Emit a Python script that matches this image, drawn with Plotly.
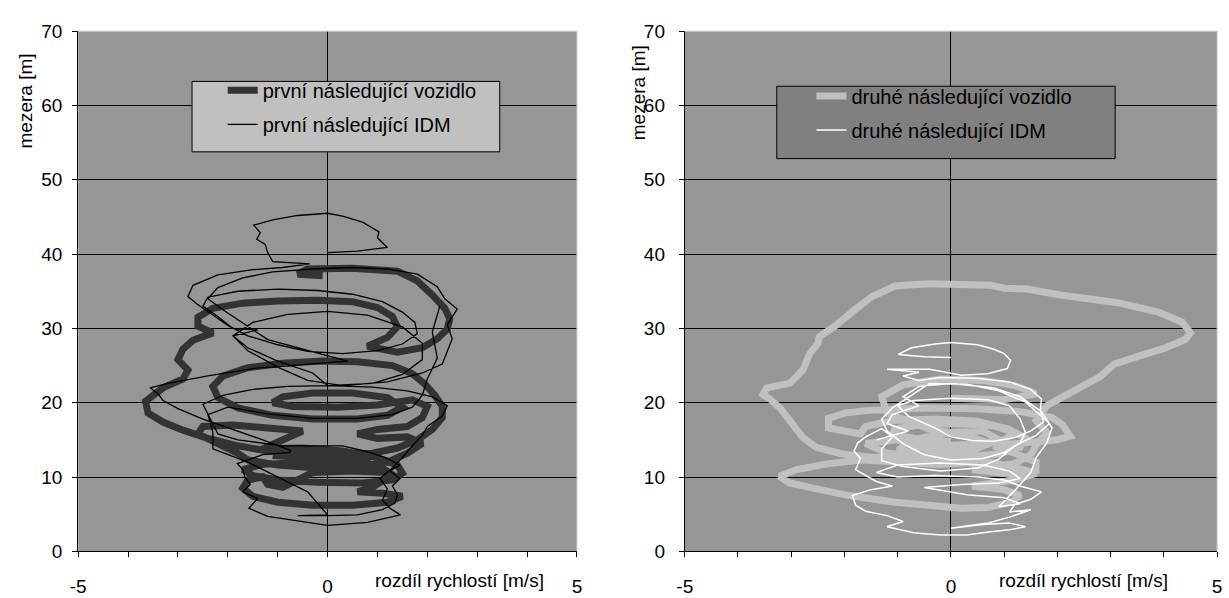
import plotly.graph_objects as go

# ---------------- data ----------------
# left panel: first following vehicle (measured) -- (speed difference [m/s], gap [m])
prvni_vozidlo = [
    (-0.1, 37.1), (-0.6, 37.3), (-0.4, 38.0), (0.5, 38.1), (1.4, 37.7), (1.8, 36.4), (2.1, 34.5),
    (2.35, 32.7), (2.45, 31.3), (2.4, 29.9), (2.2, 28.6), (1.9, 27.4), (1.4, 26.8), (0.8, 27.6),
    (1.2, 28.8), (1.4, 30.2), (1.3, 31.6), (1.0, 32.8), (0.5, 33.6), (-0.2, 33.8), (-1.0, 33.7),
    (-1.7, 33.4), (-2.3, 32.7), (-2.6, 31.5), (-2.6, 30.3), (-2.3, 29.4), (-2.7, 28.4), (-2.9, 27.2),
    (-3.0, 25.8), (-2.8, 24.4), (-2.9, 23.2), (-3.3, 22.0), (-3.65, 20.2), (-3.6, 18.6), (-3.3, 17.4),
    (-2.9, 16.3), (-2.4, 15.2), (-1.8, 14.2), (-1.2, 13.5), (-0.5, 13.1), (0.2, 12.9), (0.9, 13.2),
    (1.4, 13.9), (1.8, 15.0), (2.1, 16.4), (2.3, 18.0), (2.3, 19.5), (2.15, 21.0), (1.95, 22.5),
    (1.7, 23.9), (1.3, 25.0), (0.6, 25.5), (-0.1, 25.6), (-0.9, 25.3), (-1.6, 24.7), (-2.1, 23.6),
    (-2.3, 22.2), (-2.2, 20.7), (-1.8, 19.3), (-1.1, 18.3), (-0.3, 17.8), (0.6, 17.8), (1.2, 18.3),
    (1.5, 19.4), (1.2, 20.7), (0.5, 21.3), (-0.3, 21.3), (-0.9, 20.8), (-1.1, 20.0), (-0.7, 19.5),
    (0.2, 19.4), (1.0, 19.7), (1.7, 20.4), (2.0, 19.5), (1.9, 18.0), (1.6, 16.8), (1.0, 16.4),
    (0.6, 15.8), (1.0, 15.2), (1.6, 15.4), (1.9, 14.5), (1.6, 13.2), (1.2, 12.0), (0.6, 11.4),
    (-0.2, 11.2), (-1.0, 11.6), (-1.6, 12.3), (-1.8, 13.2), (-2.2, 14.6), (-2.6, 15.8), (-2.5, 16.8),
    (-1.9, 17.0), (-1.2, 16.6), (-0.5, 16.2), (-1.3, 13.8), (-0.5, 13.9), (0.3, 13.5), (1.0, 12.6),
    (1.4, 11.6), (1.5, 10.5), (1.3, 9.6), (0.7, 9.2), (-0.2, 9.3), (-1.0, 9.6), (-1.5, 10.2),
    (-1.7, 11.0), (-1.3, 11.7), (-0.4, 12.0), (0.5, 11.8), (1.1, 11.2), (1.3, 10.3), (0.9, 8.6),
    (0.6, 8.0), (1.1, 7.8), (1.5, 7.4), (1.2, 6.6), (0.5, 6.2), (-0.3, 6.2), (-1.0, 6.6), (-1.5, 7.4),
    (-1.7, 8.5), (-1.6, 9.6), (-1.3, 10.0), (-1.2, 9.0), (-0.9, 8.6), (-0.3, 10.6), (0.5, 10.8),
    (1.2, 10.6), (0.6, 12.6), (-0.4, 12.6), (-1.1, 12.9),
]

# left panel: first following vehicle, IDM model
prvni_idm = [
    (0.0, 40.2), (0.6, 40.4), (1.2, 40.9), (1.0, 42.2), (1.03, 43.0), (0.7, 44.3), (0.3, 45.1),
    (0.0, 45.5), (-0.6, 45.2), (-1.1, 44.6), (-1.48, 43.9), (-1.35, 42.9), (-1.42, 42.0), (-1.25, 41.3),
    (-1.2, 40.2), (-1.1, 39.0), (-0.6, 38.8), (-0.36, 38.7), (-0.9, 38.2), (-1.5, 37.9), (-2.2, 37.2),
    (-2.7, 35.8), (-2.8, 34.3), (-2.6, 33.2), (-2.3, 31.8), (-2.0, 30.4), (-1.6, 29.0), (-1.0, 27.8),
    (-0.4, 26.9), (0.3, 26.6), (1.0, 27.0), (1.5, 27.9), (1.8, 29.3), (1.75, 30.8), (1.5, 32.2),
    (1.1, 33.6), (0.5, 34.6), (-0.2, 35.1), (-1.0, 35.3), (-1.8, 35.0), (-2.4, 34.2), (-2.5, 33.0),
    (-2.2, 31.6), (-1.9, 30.0), (-1.4, 29.8), (-1.9, 29.0), (-1.6, 27.4), (-1.0, 25.6),
    (-0.3, 24.0), (0.0, 22.3), (0.9, 22.6), (1.5, 23.8), (1.9, 25.8), (1.9, 28.0), (1.5, 30.2),
    (0.8, 31.8), (0.0, 32.3), (-0.8, 31.9), (-1.5, 30.8), (-1.9, 29.0), (-1.6, 27.0), (-1.0, 24.8),
    (-0.4, 23.0), (0.3, 22.3), (1.2, 22.8), (1.9, 24.0), (2.3, 25.2), (2.4, 26.8), (2.5, 28.6),
    (2.4, 30.5), (2.6, 32.6), (2.35, 34.0), (2.2, 35.6), (1.8, 37.3), (1.2, 38.0), (0.5, 38.2),
    (-0.3, 38.0), (-1.1, 37.6), (-1.7, 36.8), (-2.2, 35.5), (-2.4, 34.0), (-2.1, 32.5),
    (-1.2, 28.5), (0.4, 25.6), (-0.8, 25.0),
    (-1.5, 24.6), (-2.4, 23.6), (-3.2, 22.6), (-3.56, 22.0), (-3.4, 21.2), (-3.3, 20.3), (-3.0, 19.2),
    (-2.5, 17.8), (-1.9, 16.4), (-1.3, 15.0), (-0.75, 13.6), (-0.75, 13.3), (-1.3, 13.0), (-1.81, 11.8),
    (-1.7, 11.0), (-1.66, 10.0), (-1.55, 9.0), (-1.7, 8.0), (-1.4, 7.1), (-1.58, 5.8), (-1.2, 4.7),
    (-0.5, 4.0), (0.0, 3.5), (0.8, 3.9), (1.46, 4.9), (1.25, 5.8), (1.1, 6.9), (1.2, 8.4), (1.05, 9.8),
    (1.3, 11.2), (1.5, 12.6), (1.7, 14.2), (1.9, 15.6), (2.0, 16.8), (2.3, 18.2), (2.4, 19.6),
    (2.1, 20.8), (1.6, 21.6), (0.9, 22.1), (0.0, 22.3), (-0.8, 22.2), (-1.5, 21.8), (-2.1, 21.0),
    (-2.5, 19.8), (-2.4, 18.5), (-2.3, 17.0), (-2.2, 15.8), (-1.8, 15.0), (-0.9, 14.2), (-0.2, 14.2),
    (0.3, 14.2), (0.8, 13.4), (1.2, 12.5), (1.45, 11.6), (1.25, 10.8), (1.45, 9.8), (1.3, 8.8),
    (1.4, 7.6), (1.35, 6.5), (1.1, 5.6), (0.6, 4.9), (0.0, 4.8), (-0.6, 4.8), (0.0, 4.9),
    (-0.4, 8.0), (-1.0, 10.0), (-1.6, 12.0), (-2.3, 13.8), (-2.3, 16.0), (-2.4, 18.4), (-2.0, 19.4),
    (-1.2, 18.5), (-0.3, 17.9), (0.6, 17.9), (1.3, 18.4), (1.7, 19.4), (1.9, 21.0), (2.0, 23.2),
    (2.2, 26.0), (2.1, 29.5), (2.25, 33.0),
]

# right panel: second following vehicle (measured)
druhe_vozidlo = [
    (0.0, 14.8), (-0.5, 15.0), (-1.0, 15.6), (-1.1, 16.4), (-0.6, 17.0), (0.1, 17.2), (0.8, 16.9),
    (1.2, 16.0), (1.0, 15.0), (0.5, 14.4), (-0.2, 14.2), (-0.8, 14.4), (-1.0, 13.6), (-0.6, 12.9),
    (0.2, 12.7), (0.9, 13.1), (1.3, 14.0), (1.4, 15.2), (1.1, 16.4), (0.5, 17.5), (-0.3, 17.8),
    (-1.1, 17.6), (-1.6, 16.8), (-1.7, 15.8), (-2.3, 16.6), (-2.3, 17.9), (-2.0, 18.6), (-1.5, 19.0),
    (-0.5, 19.3), (0.5, 19.2), (1.3, 18.8), (1.9, 18.0), (2.1, 17.0), (2.2, 16.0), (2.24, 15.5),
    (2.0, 15.0), (1.5, 14.6), (0.8, 14.2), (1.2, 13.2), (1.6, 12.0), (1.6, 10.8), (1.1, 10.4),
    (0.4, 11.0), (1.2, 11.8), (1.5, 13.0), (1.6, 14.2), (1.8, 16.0), (1.6, 17.6), (1.8, 19.6),
    (2.05, 20.5), (2.36, 21.8), (2.8, 23.5), (3.07, 25.2), (3.5, 26.2), (4.0, 27.3), (4.4, 28.5),
    (4.5, 29.4), (4.35, 30.8), (3.9, 32.2), (3.1, 33.5), (2.67, 33.9), (2.05, 34.5), (1.43, 35.3),
    (1.0, 35.4), (0.75, 35.8), (0.0, 36.0), (-0.43, 36.0), (-1.05, 35.7), (-1.48, 34.3), (-1.79, 32.6),
    (-2.16, 30.4), (-2.47, 28.9), (-2.5, 28.0), (-2.66, 26.5), (-2.78, 24.4), (-3.03, 22.6),
    (-3.46, 22.0), (-3.53, 21.1), (-3.4, 20.5), (-3.2, 19.2), (-2.97, 17.0), (-2.78, 15.3),
    (-2.53, 14.0), (-2.04, 13.1), (-1.54, 12.7), (-0.8, 12.5), (0.0, 12.3), (0.5, 12.0), (-0.2, 11.7),
    (-1.0, 12.0), (-1.67, 12.3), (-2.3, 11.8), (-2.9, 11.0), (-3.22, 10.1), (-3.03, 9.2), (-2.53, 8.4),
    (-1.91, 7.5), (-1.05, 6.6), (-0.3, 6.0), (0.19, 5.8), (0.7, 5.9), (1.12, 6.6), (1.3, 7.5),
    (1.0, 8.3), (0.4, 8.8), (1.2, 9.6), (1.6, 10.5), (1.2, 11.3), (0.4, 12.5), (-0.5, 13.8),
    (-1.0, 15.0), (-1.6, 14.5), (-1.2, 13.2), (-0.4, 12.8), (0.4, 13.6), (0.9, 15.0), (0.6, 16.2),
    (0.0, 16.0), (-0.6, 15.2), (-0.7, 14.0), (0.2, 13.6), (0.7, 14.6), (0.3, 15.6), (-0.4, 16.4),
    (-1.2, 18.6), (-1.3, 20.8), (-0.9, 22.4), (-0.2, 23.2), (0.6, 23.0),
    (1.2, 22.3), (1.6, 21.2), (1.0, 20.4), (0.0, 20.6),
]

# right panel: second following vehicle, IDM model
druhe_idm = [
    (0.0, 26.1), (-0.5, 26.2), (-0.99, 26.5), (-0.74, 27.4), (-0.3, 27.9), (0.0, 28.1), (0.5, 27.8),
    (0.81, 27.2), (1.0, 26.6), (1.12, 25.7), (1.06, 24.6), (0.69, 23.9), (0.2, 23.7), (-0.4, 24.5),
    (-1.2, 24.5), (-0.6, 24.1), (-0.9, 23.6), (-0.6, 23.0), (-0.2, 23.4), (0.5, 23.3), (1.1, 22.8),
    (1.5, 21.8), (1.7, 20.5), (1.68, 19.0), (1.74, 17.4), (1.5, 16.2), (1.2, 15.3), (0.8, 14.8),
    (0.4, 14.9), (0.0, 15.4), (-0.3, 16.6), (-0.8, 18.2), (-1.0, 19.6), (-0.7, 20.3), (0.0, 20.6),
    (0.7, 20.4), (1.1, 19.6), (1.3, 17.8), (1.4, 16.0), (1.3, 14.6), (1.0, 13.3), (0.6, 12.5),
    (0.0, 12.3), (-0.5, 13.0), (-0.9, 14.5), (-1.2, 16.2), (-1.3, 17.8), (-1.1, 19.3), (-0.7, 21.2),
    (-0.4, 22.6), (0.3, 22.5), (0.9, 21.6), (1.4, 20.1), (1.85, 17.2), (1.6, 15.6), (1.2, 14.2),
    (0.9, 12.4), (0.5, 11.2), (-0.2, 10.8), (-0.9, 11.4), (-1.3, 12.2), (-1.3, 13.8), (-1.1, 15.4),
    (-1.3, 16.5), (-1.6, 15.4), (-1.75, 14.6), (-1.82, 13.5), (-1.7, 12.5), (-1.79, 11.0),
    (-1.6, 10.2), (-1.4, 9.4), (-1.1, 8.8), (-1.5, 8.3), (-1.85, 7.5), (-1.79, 6.2), (-1.6, 5.4),
    (-1.2, 4.8), (-0.9, 4.0), (-1.2, 3.3), (-0.7, 2.5), (-0.2, 2.2), (0.3, 2.2), (0.7, 2.6),
    (1.1, 2.9), (1.4, 3.3), (1.1, 3.8), (0.6, 3.6), (0.0, 3.1), (0.7, 3.8), (1.1, 4.6), (1.5, 5.6),
    (1.1, 5.3), (1.2, 6.3), (1.5, 7.0), (1.7, 8.0), (1.3, 8.8), (1.0, 9.6), (0.5, 10.0),
    (-0.3, 10.2), (-1.0, 10.0), (-1.4, 10.6), (-1.0, 11.6), (-0.2, 11.9), (0.6, 11.6), (1.1, 10.8),
    (1.3, 9.8), (0.9, 9.2), (0.2, 9.0), (-0.5, 8.6), (0.3, 7.6), (1.0, 7.2), (1.3, 6.4), (0.9, 6.0),
    (1.2, 8.2), (1.5, 10.6), (1.6, 12.6), (1.8, 14.6), (1.9, 16.6), (1.7, 18.8), (1.3, 20.8),
    (0.8, 22.0), (0.0, 22.6), (-0.6, 22.2), (-0.9, 20.8), (-0.6, 19.6), (-1.1, 18.4), (-1.2, 17.2),
    (-0.8, 16.2), (-1.4, 15.0),
]

legend_names = ["první následující vozidlo", "první následující IDM",
                "druhé následující vozidlo", "druhé následující IDM"]
x_tick_vals = [-5, 0, 5]
x_tick_text = ["-5", "0", "5"]
x_title = "rozdíl rychlostí [m/s]"
y_title = "mezera [m]"

# ---------------- figure ----------------
W, H = 1229, 598
FONT = "Liberation Sans, Arial, sans-serif"


def xs(pts):
    return [p[0] for p in pts]


def ys(pts):
    return [p[1] for p in pts]


fig = go.Figure()
fig.add_trace(go.Scatter(x=xs(prvni_vozidlo), y=ys(prvni_vozidlo), mode="lines",
                         line=dict(color="#333333", width=7), name=legend_names[0],
                         xaxis="x", yaxis="y", legend="legend", legendgroup="a"))
fig.add_trace(go.Scatter(x=xs(prvni_idm), y=ys(prvni_idm), mode="lines",
                         line=dict(color="#000000", width=1.3), name=legend_names[1],
                         xaxis="x", yaxis="y", legend="legend", legendgroup="b"))
fig.add_trace(go.Scatter(x=xs(druhe_vozidlo), y=ys(druhe_vozidlo), mode="lines",
                         line=dict(color="#C0C0C0", width=7), name=legend_names[2],
                         xaxis="x2", yaxis="y2", legend="legend2", legendgroup="c"))
fig.add_trace(go.Scatter(x=xs(druhe_idm), y=ys(druhe_idm), mode="lines",
                         line=dict(color="#FFFFFF", width=1.5), name=legend_names[3],
                         xaxis="x2", yaxis="y2", legend="legend2", legendgroup="d"))


def px(v):
    return v / W


def py(v):
    return 1 - v / H


xdom1 = [px(71), px(575)]
xdom2 = [px(684), px(1222)]
ydom = [py(561), py(22)]

xcommon = dict(range=[-5, 5], tickvals=x_tick_vals, ticktext=x_tick_text, ticks="outside",
               ticklen=5, tickcolor="black", showline=True, linecolor="black", linewidth=1,
               showgrid=False, zeroline=True, zerolinecolor="black", zerolinewidth=1,
               tickfont=dict(family=FONT, size=19, color="black"), ticklabelstandoff=13,
               minor=dict(dtick=1, ticks="outside", ticklen=5, tickcolor="black", showgrid=False),
               fixedrange=True)
ycommon = dict(range=[0, 70], dtick=10, ticks="outside", ticklen=5, tickcolor="black",
               showline=True, linecolor="black", linewidth=1, showgrid=True, gridcolor="black",
               gridwidth=1, zeroline=False, tickfont=dict(family=FONT, size=19, color="black"),
               domain=ydom, fixedrange=True)

fig.update_layout(
    width=W, height=H, margin=dict(l=0, r=0, t=0, b=0),
    paper_bgcolor="white", plot_bgcolor="#969696",
    xaxis=dict(domain=xdom1, anchor="y", **xcommon),
    yaxis=dict(anchor="x", ticklabelstandoff=6, **ycommon),
    xaxis2=dict(domain=xdom2, anchor="y2", **xcommon),
    yaxis2=dict(anchor="x2", ticklabelstandoff=10, **ycommon),
    legend=dict(x=px(217), y=py(63), xanchor="left", yanchor="top", bgcolor="rgba(0,0,0,0)",
                font=dict(family=FONT, size=20, color="black"), tracegroupgap=5,
                traceorder="grouped", borderwidth=0),
    legend2=dict(x=px(812), y=py(69), xanchor="left", yanchor="top", bgcolor="rgba(0,0,0,0)",
                 font=dict(family=FONT, size=20, color="black"), tracegroupgap=5,
                 traceorder="grouped", borderwidth=0),
    showlegend=True,
)

shapes = [
    # legend boxes
    dict(type="rect", xref="paper", yref="paper", x0=px(186), x1=px(497), y0=py(147), y1=py(74),
         fillcolor="#C0C0C0", line=dict(color="black", width=1), layer="above"),
    dict(type="rect", xref="paper", yref="paper", x0=px(777), x1=px(1119), y0=py(154), y1=py(79),
         fillcolor="#808080", line=dict(color="black", width=1), layer="above"),
    # light plot-area border on top and right
    dict(type="line", xref="paper", yref="paper", x0=xdom1[0], x1=xdom1[1], y0=ydom[1], y1=ydom[1],
         line=dict(color="#C8C8C8", width=1), layer="above"),
    dict(type="line", xref="paper", yref="paper", x0=xdom1[1], x1=xdom1[1], y0=ydom[0], y1=ydom[1],
         line=dict(color="#C8C8C8", width=1), layer="above"),
    dict(type="line", xref="paper", yref="paper", x0=xdom2[0], x1=xdom2[1], y0=ydom[1], y1=ydom[1],
         line=dict(color="#C8C8C8", width=1), layer="above"),
    dict(type="line", xref="paper", yref="paper", x0=xdom2[1], x1=xdom2[1], y0=ydom[0], y1=ydom[1],
         line=dict(color="#C8C8C8", width=1), layer="above"),
]
fig.update_layout(shapes=shapes)

annotations = [
    dict(text=x_title, xref="x", x=2.65, yref="paper", y=py(591), xanchor="center", yanchor="middle",
         showarrow=False, font=dict(family=FONT, size=19, color="black")),
    dict(text=x_title, xref="x2", x=2.5, yref="paper", y=py(591), xanchor="center", yanchor="middle",
         showarrow=False, font=dict(family=FONT, size=19, color="black")),
    dict(text=y_title, xref="paper", x=px(18), yref="paper", y=py(94), xanchor="center",
         yanchor="middle", textangle=-90, showarrow=False,
         font=dict(family=FONT, size=19, color="black")),
    dict(text=y_title, xref="paper", x=px(638), yref="paper", y=py(86), xanchor="center",
         yanchor="middle", textangle=-90, showarrow=False,
         font=dict(family=FONT, size=19, color="black")),
]
fig.update_layout(annotations=annotations)

fig.write_html("out.html")
